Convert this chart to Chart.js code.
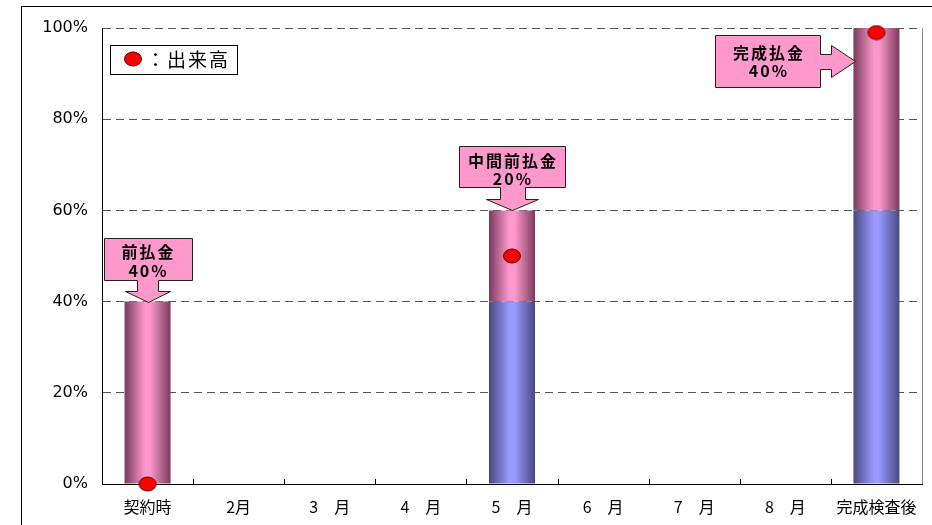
<!DOCTYPE html>
<html lang="ja">
<head>
<meta charset="UTF-8">
<title>出来高と支払</title>
<script src="https://cdn.jsdelivr.net/npm/chart.js"></script>
<style>
  body { margin: 0; background: #fff; }
  #wrap { position: relative; width: 932px; height: 525px; overflow: hidden; }
  #frame { position: absolute; left: 21px; top: 6px; width: 1000px; height: 600px; border: 1px solid #000; }
  canvas { position: absolute; left: 0; top: 0; }
</style>
</head>
<body>
<div id="wrap">
  <div id="frame"></div>
  <canvas id="chart" width="932" height="525"></canvas>
</div>
<script>
// データ
const labels = ['契約時', '2月', '3　月', '4　月', '5　月', '6　月', '7　月', '8　月', '完成検査後'];
const paidBefore = [0, 0, 0, 0, 40, 0, 0, 0, 60];   // 既払い分
const paidNow = [40, 0, 0, 0, 20, 0, 0, 0, 40];      // 今回支払分
const progress = [0, null, null, null, 50, null, null, null, 99]; // 出来高
const yTicks = [0, 20, 40, 60, 80, 100];
const calloutIndex = [0, 4, 8];
const calloutText = [['前払金', '40%'], ['中間前払金', '20%'], ['完成払金', '40%']];
const legendText = '：出来高';

const BAR_PCT = 0.505;

// 棒のグラデーション（円柱風）
function barFill(light, dark) {
    return function (c) {
        const chart = c.chart;
        const xs = chart.scales.x;
        if (!xs || !chart.chartArea) return light;
        const cx = xs.getPixelForValue(c.dataIndex);
        const half = xs.width / labels.length * BAR_PCT / 2;
        const g = chart.ctx.createLinearGradient(cx - half, 0, cx + half, 0);
        g.addColorStop(0, dark);
        g.addColorStop(0.45, light);
        g.addColorStop(0.55, light);
        g.addColorStop(1, dark);
        return g;
    };
}

// 楕円の点
const dot = document.createElement('canvas');
dot.width = 20; dot.height = 16;
(function () {
    const d = dot.getContext('2d');
    d.beginPath();
    d.ellipse(10, 8, 8.5, 7, 0, 0, Math.PI * 2);
    d.fillStyle = '#ff0000';
    d.fill();
    d.strokeStyle = '#600000';
    d.lineWidth = 1;
    d.stroke();
})();

// 吹き出し・凡例・内向き目盛
const extras = {
    id: 'extras',
    afterDatasetsDraw(chart) {
        const ctx = chart.ctx;
        const xs = chart.scales.x, ys = chart.scales.y;
        const a = chart.chartArea;
        const barHalf = xs.width / labels.length * BAR_PCT / 2;

        ctx.save();
        // 右枠
        ctx.strokeStyle = '#888';
        ctx.lineWidth = 1;
        ctx.beginPath();
        ctx.moveTo(a.right + 0.5, a.top);
        ctx.lineTo(a.right + 0.5, a.bottom);
        ctx.stroke();

        // x軸の内向き目盛
        ctx.strokeStyle = '#000';
        ctx.beginPath();
        for (let i = 0; i < labels.length - 1; i++) {
            const x = Math.round((xs.getPixelForValue(i) + xs.getPixelForValue(i + 1)) / 2) + 0.5;
            ctx.moveTo(x, a.bottom);
            ctx.lineTo(x, a.bottom - 5);
        }
        ctx.stroke();

        // 吹き出し
        const shapes = [
            { dir: 'down', w: 88, h: 42, sw: 21, hw: 45, gap: 22, head: 11, t1: -7, t2: 12 },
            { dir: 'down', w: 106, h: 41, sw: 25, hw: 52, gap: 23, head: 11, t1: -6, t2: 12 },
            { dir: 'right', w: 105, h: 52, sw: 15, hw: 32, gap: 35, head: 24, dy: 33, t1: -8, t2: 10 }
        ];
        calloutIndex.forEach((idx, k) => {
            const s = shapes[k];
            const cx = xs.getPixelForValue(idx);
            const top = ys.getPixelForValue(paidBefore[idx] + paidNow[idx]);
            let L, T, R, B, pts;
            if (s.dir === 'down') {
                const tip = top;
                B = tip - s.gap; T = B - s.h;
                L = cx - s.w / 2; R = cx + s.w / 2;
                const hy = tip - s.head;
                pts = [[L, T], [R, T], [R, B], [cx + s.sw / 2, B], [cx + s.sw / 2, hy], [cx + s.hw / 2, hy],
                       [cx, tip], [cx - s.hw / 2, hy], [cx - s.sw / 2, hy], [cx - s.sw / 2, B], [L, B]];
            } else {
                const tx = cx - barHalf + 2, ty = top + s.dy;
                R = tx - s.gap; L = R - s.w;
                T = ty - s.h / 2; B = ty + s.h / 2;
                const hx = tx - s.head;
                pts = [[L, T], [R, T], [R, ty - s.sw / 2], [hx, ty - s.sw / 2], [hx, ty - s.hw / 2], [tx, ty],
                       [hx, ty + s.hw / 2], [hx, ty + s.sw / 2], [R, ty + s.sw / 2], [R, B], [L, B]];
            }
            ctx.beginPath();
            pts.forEach((p, i) => i ? ctx.lineTo(Math.round(p[0]) + 0.5, Math.round(p[1]) + 0.5)
                                    : ctx.moveTo(Math.round(p[0]) + 0.5, Math.round(p[1]) + 0.5));
            ctx.closePath();
            ctx.fillStyle = '#ff99cc';
            ctx.fill();
            ctx.strokeStyle = '#222';
            ctx.lineWidth = 1;
            ctx.stroke();

            ctx.fillStyle = '#000';
            ctx.font = 'bold 16px "Noto Sans CJK JP", sans-serif';
            ctx.textAlign = 'center';
            ctx.textBaseline = 'middle';
            ctx.letterSpacing = '2px';
            const mx = (L + R) / 2 + 1, my = (T + B) / 2;
            ctx.fillText(calloutText[k][0], mx, my + s.t1);
            ctx.fillText(calloutText[k][1], mx, my + s.t2);
            ctx.letterSpacing = '0px';
        });

        // 凡例
        const lx = a.left + 8, ly = a.top + 17;
        ctx.fillStyle = '#fff';
        ctx.fillRect(lx, ly, 127, 29);
        ctx.strokeStyle = '#000';
        ctx.strokeRect(lx + 0.5, ly + 0.5, 127, 29);
        ctx.drawImage(dot, lx + 13, ly + 6);
        ctx.fillStyle = '#000';
        ctx.font = '19px "Noto Sans CJK JP", sans-serif';
        ctx.textAlign = 'left';
        ctx.textBaseline = 'middle';
        ctx.letterSpacing = '2px';
        ctx.fillText(legendText, lx + 36, ly + 15);
        ctx.restore();
    }
};

new Chart(document.getElementById('chart'), {
    data: {
        labels: labels,
        datasets: [
            {
                type: 'line',
                label: '出来高',
                data: progress,
                showLine: false,
                pointStyle: dot,
                pointRadius: 9,
                pointHoverRadius: 9,
                clip: false,
                order: 0
            },
            {
                type: 'bar',
                label: '既払',
                data: paidBefore,
                backgroundColor: barFill('#9999ff', '#4a4a80'),
                barPercentage: BAR_PCT,
                categoryPercentage: 1,
                order: 1
            },
            {
                type: 'bar',
                label: '今回',
                data: paidNow,
                backgroundColor: barFill('#ff99cc', '#7a3c5c'),
                barPercentage: BAR_PCT,
                categoryPercentage: 1,
                order: 1
            }
        ]
    },
    options: {
        responsive: false,
        animation: false,
        layout: { padding: { top: 28, right: 9, left: 0, bottom: 0 } },
        plugins: {
            legend: { display: false },
            tooltip: { enabled: false }
        },
        scales: {
            x: {
                stacked: true,
                afterFit: s => { s.height = 41; },
                grid: { display: false, drawTicks: false },
                border: { color: '#000', width: 1 },
                ticks: {
                    color: '#000',
                    padding: 13,
                    maxRotation: 0,
                    font: { size: 16, family: '"Noto Sans CJK JP", sans-serif' }
                }
            },
            y: {
                stacked: true,
                min: 0,
                max: 100,
                afterFit: s => { s.width = 102; },
                afterBuildTicks: s => { s.ticks = yTicks.map(v => ({ value: v })); },
                grid: { color: '#555', drawTicks: false },
                border: { color: '#000', width: 1, dash: [8, 5] },
                ticks: {
                    color: '#000',
                    padding: 14,
                    font: { size: 16, family: '"DejaVu Sans", sans-serif' },
                    callback: v => v + '%'
                }
            }
        }
    },
    plugins: [extras]
});
</script>
</body>
</html>
